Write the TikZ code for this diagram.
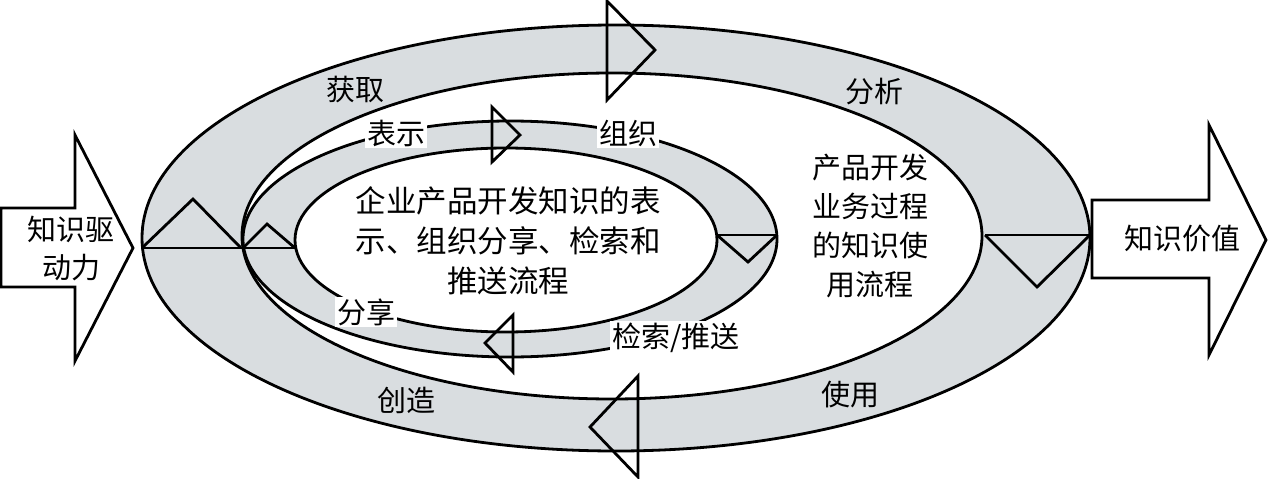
\documentclass[tikz,border=0pt]{standalone}
\usepackage{fontspec}
\setmainfont{Noto Sans CJK SC}
\definecolor{ringgray}{HTML}{D9DDE0}
\begin{document}
\begin{tikzpicture}[x=1pt,y=-1pt,line width=2.8pt,line join=miter,
  lbl/.style={font=\fontsize{29}{38}\selectfont,inner sep=1pt,align=center},
  wlbl/.style={lbl,fill=white,inner sep=2pt},
  mainlbl/.style={font=\fontsize{30.5}{40}\selectfont,inner sep=1pt,align=center},
  bigarrow/.style={draw=black,fill=white}]
\useasboundingbox (0,0) rectangle (1269,479);
% ring fills
\fill[ringgray] (616,238) ellipse [x radius=474pt,y radius=213pt];
\fill[white] (612,236) ellipse [x radius=370pt,y radius=163pt];
\fill[ringgray] (510,239) ellipse [x radius=267pt,y radius=118pt];
\fill[white] (506,240) ellipse [x radius=211pt,y radius=92pt];
% ring outlines
\draw (616,238) ellipse [x radius=474pt,y radius=213pt];
\draw (612,236) ellipse [x radius=370pt,y radius=163pt];
\draw (510,239) ellipse [x radius=267pt,y radius=118pt];
\draw (506,240) ellipse [x radius=211pt,y radius=92pt];
% left triangles
\draw (142,248) -- (295,248);
\draw (142,248) -- (193,199) -- (241,248);
\draw (243,248) -- (267,224) -- (295,248);
% right triangles
\draw (717,235) -- (777,235);
\draw (717,235) -- (748,262) -- (777,235);
\draw (985,235) -- (1090,235);
\draw (985,235) -- (1037,287) -- (1090,235);
% direction arrows
\draw (607,1) -- (655,50) -- (607,100) -- cycle;
\draw (492,107) -- (520,135) -- (492,162) -- cycle;
\draw (513,315) -- (485,343) -- (513,372) -- cycle;
\draw (638,376) -- (590,427) -- (638,477) -- cycle;
% big arrows
\draw[bigarrow] (1,208) -- (75,208) -- (75,135) -- (133,248) -- (75,361) -- (75,287) -- (1,287) -- cycle;
\draw[bigarrow] (1092,200) -- (1209,200) -- (1209,125) -- (1266,240) -- (1209,355) -- (1209,278) -- (1092,278) -- cycle;
% labels
\node[lbl] (huoqu) at (355,90) {获取};
\node[lbl] (fenxi) at (874,92) {分析};
\node[wlbl] (biaoshi) at (396,133) {表示};
\node[wlbl] (zuzhi) at (628,133) {组织};
\node[wlbl] (fenxiang) at (366,312) {分享};
\node[wlbl] (jiansuo) at (676,338) {检索/推送};
\node[lbl] (chuangzao) at (406,400) {创造};
\node[lbl] (shiyong) at (850,395) {使用};
\node[lbl] (drive) at (71,249) {知识驱\\动力};
\node[lbl] (value) at (1182,239) {知识价值};
\node[mainlbl] (center) at (508,241) {企业产品开发知识的表\\示、组织分享、检索和\\推送流程};
\node[lbl,font=\fontsize{29}{39}\selectfont] (use) at (870,226) {产品开发\\业务过程\\的知识使\\用流程};
\end{tikzpicture}
\end{document}
